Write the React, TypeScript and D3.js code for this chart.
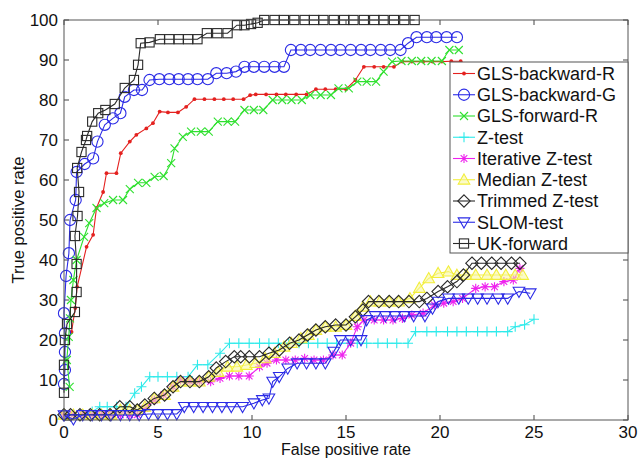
import React from 'react';
import * as d3 from 'd3';

type Pt = [number, number];

// x = false positive rate, y = true positive rate
const glsBackwardR: Pt[] = [
  [0.4, 22], [0.6, 28], [0.7, 33.3], [1.2, 43.3], [1.55, 46.3], [1.73, 53], [2.08, 57], [2.26, 61.7],
  [2.79, 61.7], [3.02, 66.7], [3.5, 69.6], [3.85, 71.3], [4.38, 72.9], [4.73, 74.2], [5.09, 77.1],
  [5.53, 76.9], [6.06, 76.9], [6.5, 78.3], [6.94, 80.2], [7.47, 80.2], [8.0, 80.2], [8.5, 80.2],
  [9.0, 80.2], [9.55, 80.2], [9.9, 81.2], [10.2, 81.4], [10.75, 81.4], [11.3, 81.4], [11.8, 81.4],
  [12.35, 81.4], [12.9, 81.4], [13.4, 82.7], [13.9, 82.7], [14.45, 82.7], [15.0, 82.7], [15.5, 85],
  [15.95, 88.3], [16.5, 88.3], [17.0, 88.3], [17.55, 88.3], [18.0, 89.6], [18.5, 89.6], [19.1, 89.6],
  [19.6, 89.6], [20.1, 89.6], [20.6, 89.7], [21.1, 89.7],
];

const glsBackwardG: Pt[] = [
  [0, 9], [0.05, 12.5], [0.05, 17], [0.05, 21.7], [0, 26.7], [0.11, 36], [0.26, 41.7], [0.32, 50],
  [0.62, 55], [0.67, 62], [1.1, 64], [1.55, 65.4], [1.78, 69.6], [2.17, 73.8], [2.6, 75.4], [3.0, 76.7],
  [3.23, 80.8], [3.72, 82.5], [4.15, 82.5], [4.55, 85], [5.07, 85.2], [5.6, 85.2], [6.1, 85.2],
  [6.6, 85.2], [7.1, 85.2], [7.65, 85.2], [8.1, 86.7], [8.65, 86.7], [9.15, 87.1], [9.6, 88.3],
  [10.1, 88.3], [10.65, 88.3], [11.2, 88.3], [11.7, 88.3], [12.07, 92.5], [12.6, 92.5], [13.1, 92.5],
  [13.65, 92.5], [14.2, 92.5], [14.7, 92.5], [15.25, 92.5], [15.8, 92.5], [16.3, 92.5], [16.85, 92.5],
  [17.35, 92.5], [17.9, 92.5], [18.3, 94.2], [18.75, 95.7], [19.3, 95.7], [19.8, 95.7], [20.35, 95.7],
  [20.9, 95.7],
];

const glsForwardR: Pt[] = [
  [0.3, 8.3], [0.15, 15], [0.25, 20.8], [0.32, 25.4], [0.37, 30], [0.5, 35], [0.67, 40], [1.07, 45.8],
  [1.34, 49.2], [1.73, 53], [2.14, 54.2], [2.61, 55], [3.14, 55], [3.5, 57.7], [3.94, 59.3], [4.38, 59.3],
  [4.82, 60.8], [5.3, 61], [5.7, 64.2], [5.88, 67.9], [6.32, 70.8], [6.76, 72.1], [7.28, 72.1],
  [7.7, 72.1], [8.18, 74.6], [8.7, 74.6], [9.1, 74.6], [9.6, 77.5], [10.1, 77.5], [10.6, 77.5],
  [11.1, 80], [11.6, 80], [12.1, 80], [12.65, 80], [13.1, 81.25], [13.65, 81.25], [14.2, 81.25],
  [14.6, 82.9], [15.15, 82.9], [15.6, 84.6], [16.1, 84.6], [16.6, 84.6], [17.0, 87.1], [17.45, 89.6],
  [17.95, 89.75], [18.5, 89.75], [19.0, 89.75], [19.55, 89.75], [20.1, 89.75], [20.5, 92.5], [21.0, 92.5],
];

const zTest: Pt[] = [
  [0, 1.3], [0.5, 1.3], [1.0, 1.3], [1.5, 2.1], [1.9, 3.3], [2.3, 3.3], [2.8, 3.3], [3.3, 3.3],
  [3.76, 6.7], [4.12, 8.3], [4.56, 10.8], [5.0, 10.8], [5.5, 10.8], [6.0, 10.8], [6.6, 10.8],
  [7.1, 13.8], [7.65, 13.8], [8.3, 16.7], [8.8, 19.2], [9.3, 19.2], [9.85, 19.2], [10.4, 19.2],
  [10.9, 19.2], [11.4, 19.2], [11.95, 19.2], [12.5, 19.2], [13.0, 19.2], [13.5, 19.2], [14.0, 19.2],
  [14.5, 19.2], [15.1, 19.2], [15.6, 19.2], [16.1, 19.2], [16.7, 19.2], [17.2, 19.2], [17.7, 19.2],
  [18.3, 19.2], [18.7, 22.1], [19.3, 22.1], [19.8, 22.1], [20.4, 22.1], [20.9, 22.1], [21.4, 22.1],
  [22.0, 22.1], [22.5, 22.1], [23.0, 22.1], [23.6, 22.1], [24.0, 23.3], [24.5, 23.8], [25.0, 25.2],
];

const iterativeZ: Pt[] = [
  [0, 1.3], [0.5, 1.3], [1.0, 1.3], [1.5, 1.3], [2.0, 1.3], [2.5, 1.3], [3.0, 1.3], [3.5, 1.3],
  [3.9, 1.3], [4.3, 2.9], [4.8, 5], [5.3, 6.25], [5.8, 8.3], [6.2, 10], [6.7, 9.6], [7.2, 9.6],
  [7.8, 9.6], [8.3, 10.4], [8.8, 11], [9.3, 11], [9.85, 11], [10.4, 13.3], [10.8, 14.2], [11.3, 15],
  [11.8, 15], [12.3, 15], [12.8, 15.4], [13.3, 15], [13.8, 15], [14.3, 16.25], [14.8, 16.25],
  [15.25, 19.2], [15.6, 23.3], [15.95, 25], [16.5, 25], [17.0, 25], [17.5, 25], [18.0, 25.4],
  [18.5, 26.25], [19.1, 26.7], [19.7, 28.75], [20.2, 29.2], [20.7, 29.6], [21.2, 30.4], [21.9, 32.9],
  [22.4, 33.3], [22.9, 33.3], [23.4, 34.6], [23.9, 35], [24.25, 37.9],
];

const medianZ: Pt[] = [
  [0, 1.3], [0.5, 1.3], [1.0, 1.3], [1.5, 1.3], [2.0, 1.3], [2.5, 1.3], [3.0, 2.5], [3.5, 2.5],
  [3.9, 2.5], [4.3, 3.3], [4.8, 5.4], [5.35, 6.25], [5.8, 8.3], [6.2, 9.6], [6.7, 9.6], [7.2, 9.6],
  [7.7, 10.8], [8.2, 12], [8.7, 13.3], [9.2, 13.3], [9.7, 13.75], [10.2, 14.2], [10.7, 15.4],
  [11.2, 16.7], [11.7, 18.3], [12.1, 19.2], [12.6, 20.4], [13.0, 21.25], [13.4, 22.5], [13.9, 23.3],
  [14.45, 23.3], [15.0, 23.75], [15.5, 26], [15.9, 28.3], [16.3, 29.6], [16.8, 29.6], [17.3, 29.6],
  [17.8, 29.6], [18.4, 30.4], [18.9, 33], [19.4, 35.4], [19.9, 36.7], [20.45, 37.1], [20.9, 36.25],
  [21.4, 36.25], [21.9, 36.25], [22.5, 36.25], [23.0, 36.25], [23.5, 36.25], [24.0, 36.25], [24.4, 36.25],
];

const trimmedZ: Pt[] = [
  [0, 1.3], [0.35, 1.3], [0.85, 1.3], [1.4, 1.3], [1.9, 1.3], [2.45, 1.3], [2.97, 3.3], [3.5, 3.3],
  [3.9, 2.5], [4.3, 3.75], [4.8, 5.4], [5.35, 6.25], [5.8, 8.3], [6.2, 9.6], [6.7, 9.6], [7.2, 9.6],
  [7.7, 10.8], [8.1, 13], [8.6, 14.6], [9.06, 15.8], [9.4, 15.8], [9.86, 15.8], [10.4, 15.8],
  [10.9, 16.7], [11.45, 17.5], [12.0, 19.2], [12.5, 20], [12.95, 21.25], [13.4, 22.5], [13.9, 23.3],
  [14.45, 23.75], [15.0, 23.75], [15.5, 25.8], [15.9, 27.5], [16.2, 29.6], [16.75, 29.6], [17.3, 29.6],
  [17.8, 29.6], [18.35, 29.6], [18.9, 29.6], [19.3, 30.4], [19.9, 32.1], [20.4, 33.3], [20.9, 34.6],
  [21.25, 36.25], [21.7, 39.2], [22.2, 39.2], [22.75, 39.2], [23.25, 39.2], [23.8, 39.2], [24.25, 39.2],
];

const slomTest: Pt[] = [
  [0, 1.2], [0.5, 0.2], [1.0, 1.25], [1.5, 1.25], [2.0, 1.25], [2.5, 1.25], [3.0, 1.25], [3.5, 1.25],
  [4.0, 1.25], [4.5, 1.5], [5.0, 1.5], [5.5, 1.5], [6.0, 1.5], [6.4, 3.3], [6.9, 3.3], [7.4, 3.3],
  [7.9, 3.3], [8.4, 3.3], [8.9, 3.3], [9.5, 3.3], [10.1, 4.2], [10.55, 5], [10.9, 5.4], [11.1, 9.6],
  [11.45, 10.8], [11.9, 12.9], [12.4, 14.2], [12.9, 14.2], [13.4, 14.2], [13.9, 14.2], [14.35, 17.1],
  [14.7, 20], [15.25, 20], [15.8, 20], [16.1, 25], [16.55, 26], [17.1, 26], [17.6, 26], [18.1, 26],
  [18.6, 26], [19.2, 26], [19.6, 27.9], [19.9, 29.6], [20.45, 30.4], [21.0, 30.4], [21.5, 30.4],
  [22.0, 30.4], [22.5, 30.4], [23.1, 30.4], [23.6, 30.4], [24.2, 32.1], [24.8, 31.7],
];

const ukForward: Pt[] = [
  [0, 6.8], [0, 13.8], [0.05, 20], [0.16, 24], [0.58, 27], [0.67, 32], [0.67, 39], [0.58, 46],
  [0.72, 51], [0.8, 57], [0.7, 63], [0.93, 67], [1.17, 70], [1.23, 71], [1.5, 74.6], [1.82, 76.7],
  [2.2, 77.5], [2.7, 79], [3.23, 83], [3.72, 85], [3.94, 88.8], [4.08, 94.2], [4.55, 94.4],
  [5.1, 95.2], [5.6, 95.2], [6.1, 95.2], [6.6, 95.2], [7.1, 95.2], [7.6, 96.7], [8.15, 96.7],
  [8.7, 96.7], [9.2, 98.7], [9.6, 98.7], [9.95, 99], [10.3, 99.3], [10.65, 100], [11.2, 100],
  [11.7, 100], [12.25, 100], [12.8, 100], [13.3, 100], [13.8, 100], [14.35, 100], [14.9, 100],
  [15.4, 100], [15.95, 100], [16.5, 100], [17.0, 100], [17.55, 100], [18.1, 100], [18.65, 100],
];

const xTicks = [0, 5, 10, 15, 20, 25, 30];
const yTicks = [0, 10, 20, 30, 40, 50, 60, 70, 80, 90, 100];

type Marker = 'dot' | 'circle' | 'x' | 'plus' | 'star' | 'tri' | 'diamond' | 'tridown' | 'square';

interface Series {
  name: string;
  data: Pt[];
  color: string;
  marker: Marker;
}

const series: Series[] = [
  { name: 'GLS-backward-R', data: glsBackwardR, color: '#e4211f', marker: 'dot' },
  { name: 'GLS-backward-G', data: glsBackwardG, color: '#2b2be6', marker: 'circle' },
  { name: 'GLS-forward-R', data: glsForwardR, color: '#2fe02f', marker: 'x' },
  { name: 'Z-test', data: zTest, color: '#2eeaea', marker: 'plus' },
  { name: 'Iterative Z-test', data: iterativeZ, color: '#ee22ee', marker: 'star' },
  { name: 'Median Z-test', data: medianZ, color: '#f2ee3a', marker: 'tri' },
  { name: 'Trimmed Z-test', data: trimmedZ, color: '#2a2a2a', marker: 'diamond' },
  { name: 'SLOM-test', data: slomTest, color: '#2b2be6', marker: 'tridown' },
  { name: 'UK-forward', data: ukForward, color: '#2a2a2a', marker: 'square' },
];

const W = 642;
const H = 459;
const plot = { left: 64, right: 628, top: 20, bottom: 420 };

const x = d3.scaleLinear().domain([0, 30]).range([plot.left, plot.right]);
const y = d3.scaleLinear().domain([0, 100]).range([plot.bottom, plot.top]);

const FONT = "Arial, 'Liberation Sans', Helvetica, sans-serif";

function markerShape(m: Marker, cx: number, cy: number, color: string, key: string | number) {
  const sw = 1.1;
  switch (m) {
    case 'dot':
      return <circle key={key} cx={cx} cy={cy} r={1.9} fill={color} />;
    case 'circle':
      return <circle key={key} cx={cx} cy={cy} r={5.6} fill="none" stroke={color} strokeWidth={sw} />;
    case 'x': {
      const s = 4;
      return (
        <path key={key} d={`M${cx - s},${cy - s}L${cx + s},${cy + s}M${cx - s},${cy + s}L${cx + s},${cy - s}`}
          stroke={color} strokeWidth={sw} fill="none" />
      );
    }
    case 'plus': {
      const s = 5;
      return (
        <path key={key} d={`M${cx - s},${cy}L${cx + s},${cy}M${cx},${cy - s}L${cx},${cy + s}`}
          stroke={color} strokeWidth={sw} fill="none" />
      );
    }
    case 'star': {
      const s = 4.6;
      const d = s * 0.72;
      return (
        <path key={key}
          d={`M${cx - s},${cy}L${cx + s},${cy}M${cx},${cy - s}L${cx},${cy + s}M${cx - d},${cy - d}L${cx + d},${cy + d}M${cx - d},${cy + d}L${cx + d},${cy - d}`}
          stroke={color} strokeWidth={sw} fill="none" />
      );
    }
    case 'tri': {
      const s = 5.8;
      return (
        <path key={key} d={`M${cx},${cy - s}L${cx + s},${cy + s * 0.75}L${cx - s},${cy + s * 0.75}Z`}
          stroke={color} strokeWidth={sw} fill="#f7f59a" fillOpacity={0.55} />
      );
    }
    case 'diamond': {
      const s = 6.2;
      return (
        <path key={key} d={`M${cx},${cy - s}L${cx + s},${cy}L${cx},${cy + s}L${cx - s},${cy}Z`}
          stroke={color} strokeWidth={sw} fill="none" />
      );
    }
    case 'tridown': {
      const s = 5.8;
      return (
        <path key={key} d={`M${cx},${cy + s}L${cx + s},${cy - s * 0.75}L${cx - s},${cy - s * 0.75}Z`}
          stroke={color} strokeWidth={sw} fill="none" />
      );
    }
    case 'square': {
      const s = 4.6;
      return <rect key={key} x={cx - s} y={cy - s} width={2 * s} height={2 * s} fill="none" stroke={color} strokeWidth={sw} />;
    }
  }
}

const line = d3.line<Pt>().x((d) => x(d[0])).y((d) => y(d[1]));

export default function App() {
  const tickLen = 5;
  const legend = { x: 450, y: 62, w: 178, h: 191, row0: 73.5, step: 21.25 };
  return (
    <svg width={W} height={H} style={{ position: 'absolute', left: 0, top: 0, background: '#fff' }}
      fontFamily={FONT}>
      <rect x={0} y={0} width={W} height={H} fill="#fff" />

      <defs>
        <clipPath id="plot-clip">
          <rect x={plot.left - 8} y={plot.top - 8} width={plot.right - plot.left + 16} height={plot.bottom - plot.top + 16} />
        </clipPath>
      </defs>

      {/* ticks on all four sides, pointing inward */}
      <g stroke="#444" strokeWidth={1}>
        {xTicks.map((t) => (
          <g key={`xt${t}`}>
            <line x1={x(t)} x2={x(t)} y1={plot.bottom} y2={plot.bottom - tickLen} />
            <line x1={x(t)} x2={x(t)} y1={plot.top} y2={plot.top + tickLen} />
          </g>
        ))}
        {yTicks.map((t) => (
          <g key={`yt${t}`}>
            <line x1={plot.left} x2={plot.left + tickLen} y1={y(t)} y2={y(t)} />
            <line x1={plot.right} x2={plot.right - tickLen} y1={y(t)} y2={y(t)} />
          </g>
        ))}
      </g>

      {/* series lines and markers */}
      <g clipPath="url(#plot-clip)">
        {series.map((s) => (
          <g key={s.name}>
            <path d={line(s.data) || ''} fill="none" stroke={s.color} strokeWidth={1.1} />
            {s.data.map((p, i) => markerShape(s.marker, x(p[0]), y(p[1]), s.color, i))}
          </g>
        ))}
      </g>

      {/* frame */}
      <rect x={plot.left} y={plot.top} width={plot.right - plot.left} height={plot.bottom - plot.top}
        fill="none" stroke="#555" strokeWidth={1} />

      {/* tick labels */}
      <g fontSize={17} fill="#111">
        {xTicks.map((t) => (
          <text key={`xl${t}`} x={x(t)} y={plot.bottom + 18} textAnchor="middle">{t}</text>
        ))}
        {yTicks.map((t) => (
          <text key={`yl${t}`} x={plot.left - 6} y={y(t) + 6} textAnchor="end">{t}</text>
        ))}
      </g>

      {/* axis titles */}
      <text x={(plot.left + plot.right) / 2} y={455} textAnchor="middle" fontSize={16} fill="#111">
        False positive rate
      </text>
      <text transform={`translate(24,${(plot.top + plot.bottom) / 2}) rotate(-90)`} textAnchor="middle"
        fontSize={16.5} fill="#111">
        True positive rate
      </text>

      {/* legend */}
      <g>
        <rect x={legend.x} y={legend.y} width={legend.w} height={legend.h} fill="#fff" stroke="#555" strokeWidth={1} />
        {series.map((s, i) => {
          const cy = legend.row0 + i * legend.step;
          return (
            <g key={`lg${s.name}`}>
              <line x1={legend.x + 3} x2={legend.x + 25} y1={cy} y2={cy} stroke={s.color} strokeWidth={1.1} />
              {markerShape(s.marker, legend.x + 14, cy, s.color, 'm')}
              <text x={legend.x + 27} y={cy + 6.3} fontSize={18} fill="#111">{s.name}</text>
            </g>
          );
        })}
      </g>
    </svg>
  );
}
